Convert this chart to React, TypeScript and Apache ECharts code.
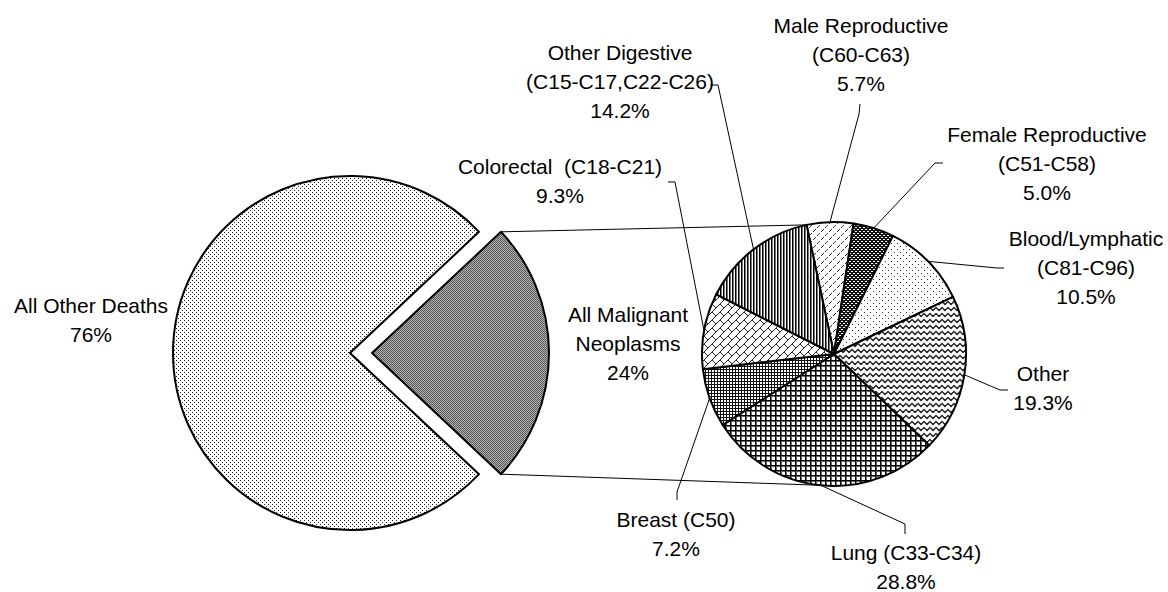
import React, { useEffect, useRef } from "react";
import * as echarts from "echarts";

// ---------- data ----------
const mainCategories = ["All Malignant Neoplasms", "All Other Deaths"];
const mainValues = [24, 76];
const mainLabels = ["All Malignant\nNeoplasms", "All Other Deaths"];

const cancerCategories = [
  "Male Reproductive (C60-C63)",
  "Female Reproductive (C51-C58)",
  "Blood/Lymphatic (C81-C96)",
  "Other",
  "Lung (C33-C34)",
  "Breast (C50)",
  "Colorectal (C18-C21)",
  "Other Digestive (C15-C17,C22-C26)",
];
const cancerValues = [5.7, 5.0, 10.5, 19.3, 28.8, 7.2, 9.3, 14.2];
const cancerLabels = [
  "Male Reproductive\n(C60-C63)",
  "Female Reproductive\n(C51-C58)",
  "Blood/Lymphatic\n(C81-C96)",
  "Other",
  "Lung (C33-C34)",
  "Breast (C50)",
  "Colorectal  (C18-C21)",
  "Other Digestive\n(C15-C17,C22-C26)",
];

// ---------- layout (positions only) ----------
const LEFT = { cx: 350, cy: 353, r: 177, offset: 22 };
const RIGHT = { cx: 834, cy: 354, r: 132, startAngle: 102 };
const mainLabelPos = [
  [628, 343],
  [91, 320],
];
const cancerLabelPos = [
  [861, 54],
  [1047, 163],
  [1086, 267],
  [1043, 388],
  [906, 567],
  [676, 534],
  [560, 181],
  [620, 81],
];
// knee point and end point of each leader line
const cancerLeader = [
  [[859, 114], [860, 104]],
  [[935, 163], [943, 163]],
  [[997, 268], [1004, 268]],
  [[1000, 390], [1008, 390]],
  [[905, 524], [905, 534]],
  [[677, 492], [677, 500]],
  [[675, 182], [668, 182]],
  [[718, 85], [710, 85]],
];

const FONT = "'Liberation Sans', Arial, sans-serif";

function tile(w: number, h: number, draw: (ctx: CanvasRenderingContext2D) => void, bg = "#fff") {
  const c = document.createElement("canvas");
  c.width = w;
  c.height = h;
  const ctx = c.getContext("2d") as CanvasRenderingContext2D;
  ctx.fillStyle = bg;
  ctx.fillRect(0, 0, w, h);
  draw(ctx);
  return { image: c, repeat: "repeat", imageWidth: w, imageHeight: h };
}
function px(ctx: CanvasRenderingContext2D, x: number, y: number, col: string) {
  ctx.fillStyle = col;
  ctx.fillRect(x, y, 1, 1);
}

function makePatterns() {
  const dotsLight = tile(4, 4, (c) => {
    px(c, 0, 0, "#222");
    px(c, 2, 2, "#222");
  });
  const grayChecker = tile(2, 2, (c) => {
    px(c, 0, 0, "#555");
    px(c, 1, 1, "#555");
    px(c, 1, 0, "#b5b5b5");
    px(c, 0, 1, "#b5b5b5");
  });
  const vStripes = tile(3, 1, (c) => {
    px(c, 0, 0, "#000");
    px(c, 1, 0, "#777");
  });
  const diagDash = tile(8, 8, (c) => {
    [[1, 3], [2, 2], [3, 1], [5, 7], [6, 6], [7, 5]].forEach(([x, y]) => px(c, x, y, "#333"));
  });
  const darkOvals = tile(4, 4, (c) => {
    [[1, 1], [2, 1], [3, 3], [0, 3]].forEach(([x, y]) => px(c, x, y, "#fff"));
  }, "#111");
  const sparseDots = tile(6, 6, (c) => {
    px(c, 0, 0, "#333");
    px(c, 3, 3, "#333");
  });
  const zigzag = tile(6, 6, (c) => {
    c.strokeStyle = "#222";
    c.lineWidth = 1.4;
    for (const oy of [-6, 0, 6]) {
      c.beginPath();
      c.moveTo(-6, 1.5 + oy);
      c.lineTo(-3, 4.5 + oy);
      c.lineTo(0, 1.5 + oy);
      c.lineTo(3, 4.5 + oy);
      c.lineTo(6, 1.5 + oy);
      c.lineTo(9, 4.5 + oy);
      c.stroke();
    }
  });
  const grid = tile(5, 5, (c) => {
    c.fillStyle = "#666";
    c.fillRect(1, 0, 1, 5);
    c.fillRect(0, 1, 5, 1);
    c.fillStyle = "#000";
    c.fillRect(0, 0, 1, 5);
    c.fillRect(0, 0, 5, 1);
  });
  const fineGrid = tile(3, 3, (c) => {
    c.fillStyle = "#111";
    c.fillRect(0, 0, 1, 3);
    c.fillRect(0, 0, 3, 1);
  });
  const brick = tile(16, 16, (c) => {
    c.strokeStyle = "#222";
    c.lineWidth = 1;
    for (let s = -16; s <= 48; s += 8) {
      c.beginPath();
      c.moveTo(s + 16, -16);
      c.lineTo(s - 32, 32);
      c.stroke();
    }
    for (let a = -4; a <= 8; a++) {
      const off = ((a % 2) + 2) % 2 === 0 ? 0 : 8;
      for (let k = -4; k <= 4; k++) {
        const cc = k * 16 + off;
        c.beginPath();
        c.moveTo((8 * a + cc) / 2, (8 * a - cc) / 2);
        c.lineTo((8 * a + 8 + cc) / 2, (8 * a + 8 - cc) / 2);
        c.stroke();
      }
    }
  });
  return {
    main: [grayChecker, dotsLight],
    cancer: [diagDash, darkOvals, sparseDots, zigzag, grid, fineGrid, brick, vStripes],
  };
}

export default function App() {
  const ref = useRef<HTMLDivElement>(null);
  useEffect(() => {
    if (!ref.current) return;
    const chart = echarts.init(ref.current, null, { renderer: "svg" });
    const pats = makePatterns();

    const half = ((mainValues[0] / 100) * 360) / 2;
    const hr = (half * Math.PI) / 180;
    const topCorner = [LEFT.cx + LEFT.offset + LEFT.r * Math.cos(hr), LEFT.cy - LEFT.r * Math.sin(hr)];
    const botCorner = [LEFT.cx + LEFT.offset + LEFT.r * Math.cos(hr), LEFT.cy + LEFT.r * Math.sin(hr)];
    const ta = (RIGHT.startAngle * Math.PI) / 180;
    const rightTop = [RIGHT.cx + RIGHT.r * Math.cos(ta), RIGHT.cy - RIGHT.r * Math.sin(ta)];
    const ba = (-96 * Math.PI) / 180;
    const rightBot = [RIGHT.cx + RIGHT.r * Math.cos(ba), RIGHT.cy - RIGHT.r * Math.sin(ba)];

    const labelBase = {
      show: true,
      position: "outside",
      color: "#000",
      fontSize: 21,
      lineHeight: 29,
      fontFamily: FONT,
      align: "center",
    };

    // left pie: drawn as two series sharing the same data; the first one shows the
    // "All Other Deaths" slice, the second one the exploded "All Malignant" slice.
    const leftSeries = (shown: number, centerX: number) => ({
      type: "pie",
      center: [centerX, LEFT.cy],
      radius: LEFT.r,
      startAngle: half,
      clockwise: true,
      avoidLabelOverlap: false,
      silent: true,
      emphasis: { disabled: true },
      label: {
        ...labelBase,
        formatter: (p: any) => `${mainLabels[p.dataIndex]}\n${p.value}%`,
      },
      labelLine: { show: false },
      labelLayout: (p: any) => ({
        x: mainLabelPos[p.dataIndex][0],
        y: mainLabelPos[p.dataIndex][1],
        align: "center",
        verticalAlign: "middle",
      }),
      data: mainCategories.map((name, i) => ({
        name,
        value: mainValues[i],
        itemStyle:
          i === shown
            ? { color: pats.main[i], borderColor: "#000", borderWidth: 2 }
            : { color: "rgba(0,0,0,0)", borderWidth: 0 },
        label: { show: i === shown },
      })),
    });

    const option = {
      animation: false,
      backgroundColor: "#fff",
      series: [
        leftSeries(1, LEFT.cx),
        leftSeries(0, LEFT.cx + LEFT.offset),
        {
          type: "pie",
          center: [RIGHT.cx, RIGHT.cy],
          radius: RIGHT.r,
          startAngle: RIGHT.startAngle,
          clockwise: true,
          avoidLabelOverlap: false,
          silent: true,
          emphasis: { disabled: true },
          itemStyle: { borderColor: "#000", borderWidth: 2 },
          label: {
            ...labelBase,
            formatter: (p: any) => `${cancerLabels[p.dataIndex]}\n${Number(p.value).toFixed(1)}%`,
          },
          labelLine: { show: true, lineStyle: { color: "#000", width: 1 }, smooth: false },
          labelLayout: (p: any) => {
            const i = p.dataIndex;
            const first = p.labelLinePoints && p.labelLinePoints[0];
            const res: any = {
              x: cancerLabelPos[i][0],
              y: cancerLabelPos[i][1],
              align: "center",
              verticalAlign: "middle",
            };
            if (first) res.labelLinePoints = [first, cancerLeader[i][0], cancerLeader[i][1]];
            return res;
          },
          data: cancerCategories.map((name, i) => ({
            name,
            value: cancerValues[i],
            itemStyle: { color: pats.cancer[i] },
          })),
        },
      ],
      graphic: [
        {
          type: "line",
          shape: { x1: topCorner[0], y1: topCorner[1], x2: rightTop[0], y2: rightTop[1] },
          style: { stroke: "#000", lineWidth: 1 },
          silent: true,
        },
        {
          type: "line",
          shape: { x1: botCorner[0], y1: botCorner[1], x2: rightBot[0], y2: rightBot[1] },
          style: { stroke: "#000", lineWidth: 1 },
          silent: true,
        },
      ],
    };
    chart.setOption(option as any);
    return () => chart.dispose();
  }, []);
  return (
    <div
      ref={ref}
      style={{ position: "fixed", left: 0, top: 0, width: 1168, height: 592, background: "#fff" }}
    />
  );
}
